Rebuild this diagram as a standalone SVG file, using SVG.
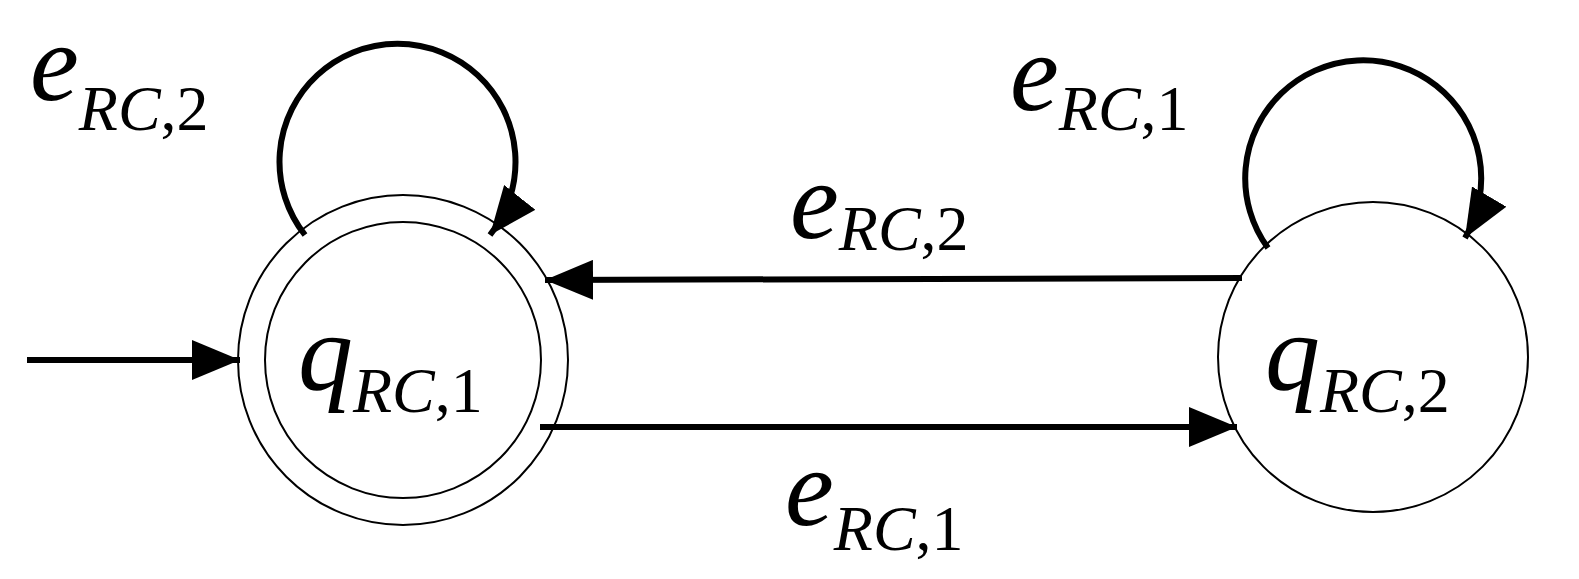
<svg xmlns="http://www.w3.org/2000/svg" width="1579" height="579" viewBox="0 0 1579 579">
<style>
.n{fill:none;stroke:#000;stroke-width:2}
.c{fill:none;stroke:#000;stroke-width:6}
text{font-family:"Liberation Serif","Times New Roman",serif;fill:#000}
.b{font-style:italic;font-size:110px}
.s{font-size:64px}
.i{font-style:italic}
</style>
<defs>
<marker id="a" markerUnits="userSpaceOnUse" markerWidth="50" markerHeight="40" refX="48" refY="20" orient="auto">
<path d="M0,0 L48,20 L0,40 Z" fill="#000"/>
</marker>
</defs>
<rect width="1579" height="579" fill="#fff"/>
<g id="q1">
<circle class="n" cx="403" cy="360" r="165"/>
<circle class="n" cx="403" cy="360" r="138"/>
<text x="298" y="390"><tspan class="b">q</tspan><tspan class="s" dy="22"><tspan class="i">RC</tspan>,1</tspan></text>
</g>
<g id="q2">
<circle class="n" cx="1373" cy="357" r="155"/>
<text x="1265" y="390"><tspan class="b">q</tspan><tspan class="s" dy="22"><tspan class="i">RC</tspan>,2</tspan></text>
</g>
<g id="connectors">
<line class="c" x1="27" y1="360" x2="240" y2="360" marker-end="url(#a)"/>
<line class="c" x1="1242" y1="278" x2="545" y2="280" marker-end="url(#a)"/>
<line class="c" x1="540" y1="427" x2="1237" y2="427" marker-end="url(#a)"/>
<path class="c" d="M305,235 A118,118 0 1 1 490,235" marker-end="url(#a)"/>
<path class="c" d="M1268,248 A118,118 0 1 1 1465,238" marker-end="url(#a)"/>
</g>
<g id="labels">
<text x="30" y="100"><tspan class="b">e</tspan><tspan class="s" dy="30"><tspan class="i">RC</tspan>,2</tspan></text>
<text x="1010" y="110"><tspan class="b">e</tspan><tspan class="s" dy="20"><tspan class="i">RC</tspan>,1</tspan></text>
<text x="790" y="238"><tspan class="b">e</tspan><tspan class="s" dy="12"><tspan class="i">RC</tspan>,2</tspan></text>
<text x="785" y="525"><tspan class="b">e</tspan><tspan class="s" dy="25"><tspan class="i">RC</tspan>,1</tspan></text>
</g>
</svg>
